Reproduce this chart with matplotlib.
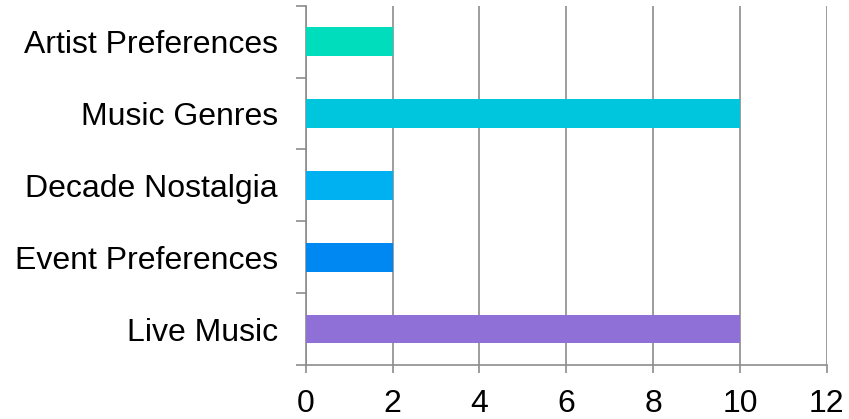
import matplotlib.pyplot as plt
import numpy as np

plt.rcParams['font.family'] = ['Liberation Sans', 'DejaVu Sans']

categories = ['Artist Preferences', 'Music Genres', 'Decade Nostalgia',
              'Event Preferences', 'Live Music']
values = [2, 10, 2, 2, 10]
colors = ['#00DDBD', '#00C6DD', '#00B1F1', '#0088F2', '#8F70D6']
xticks = [0, 2, 4, 6, 8, 10, 12]

grey = '#8C8C8C'

fig = plt.figure(figsize=(8.49, 4.19), dpi=100)
ax = fig.add_axes([0.36, 0.129, 0.614, 0.857])

y = np.arange(len(categories))
ax.barh(y, values, height=0.4, color=colors, zorder=3)

ax.set_xlim(0, 12)
ax.set_ylim(len(categories) - 0.5, -0.5)
ax.set_xticks(xticks)
ax.set_xticklabels([str(t) for t in xticks], fontsize=23)
ax.set_yticks(y)
ax.set_yticklabels(categories, fontsize=23)
ax.set_yticks(np.arange(-0.5, len(categories)), minor=True)

ax.tick_params(axis='y', which='major', length=0, pad=20)
ax.tick_params(axis='y', which='minor', length=7, width=1.2, color=grey)
ax.tick_params(axis='x', length=6, width=1.2, color=grey, pad=11)

ax.grid(axis='x', color=grey, linewidth=1.2, zorder=0)
for s in ['top', 'right']:
    ax.spines[s].set_visible(False)
for s in ['left', 'bottom']:
    ax.spines[s].set_color(grey)
    ax.spines[s].set_linewidth(1.2)

fig.savefig('out.png', dpi=100)
